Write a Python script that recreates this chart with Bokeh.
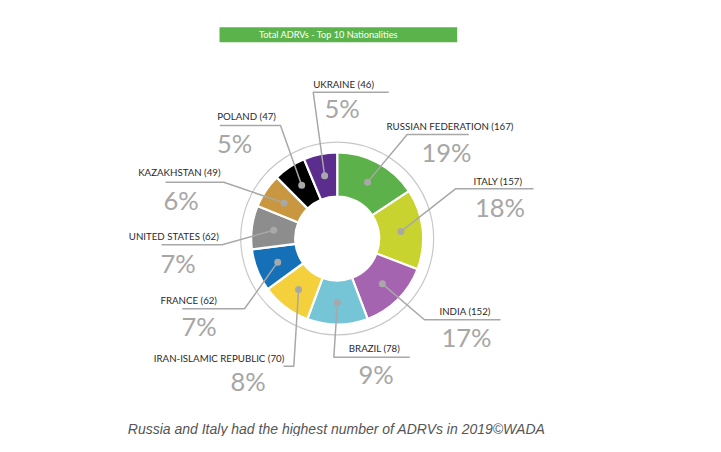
import numpy as np
from bokeh.plotting import figure
from bokeh.models import Range1d, ColumnDataSource
from bokeh.core.properties import value
from bokeh.embed import file_html
from bokeh.resources import INLINE

# ---- data ----
countries = ["RUSSIAN FEDERATION", "ITALY", "INDIA", "BRAZIL", "IRAN-ISLAMIC REPUBLIC",
             "FRANCE", "UNITED STATES", "KAZAKHSTAN", "POLAND", "UKRAINE"]
counts = [167, 157, 152, 78, 70, 62, 62, 49, 47, 46]
percents = [19, 18, 17, 9, 8, 7, 7, 6, 5, 5]
# share of the ring each slice occupies as drawn in the infographic (%)
drawn_share = [15.7, 15.1, 13.4, 11.4, 9.3, 8.0, 8.2, 6.4, 6.1, 6.3]
colors = ["#5cb14b", "#c9d32f", "#a564b0", "#75c5d6", "#f4d13c",
          "#1570b8", "#8d8d8d", "#c9973f", "#000000", "#5b2d8c"]
title = "Total ADRVs - Top 10 Nationalities"
caption = "Russia and Italy had the highest number of ADRVs in 2019\u00a9WADA"

# ---- layout (reference pixel coords) ----
W, H = 705, 436
def X(x): return x
def Y(y): return H - y

CX, CY = X(336.7), Y(238)
R_IN, R_OUT, R_RING, R_DOT = 42, 86, 96.5, 64

# per label: name (left x, center y), pct (left x, center y), elbow (x,y), line end x
name_pos = [(386, 125), (473, 180), (439, 310.7), (348.3, 347.7), (153.3, 357.3),
            (160, 299.3), (128.3, 235), (137.7, 171.7), (216.7, 115), (312.7, 83.3)]
pct_pos = [(421, 151), (474.5, 206), (441, 336.5), (358, 373.5), (230, 380.5),
           (181, 325), (160, 262), (163, 199), (216.5, 142), (324, 107.5)]
elbows = [(406.7, 134), (455, 188.3), (424, 319.3), (333.3, 356.7), (293.3, 365.7),
          (244, 308.3), (221.7, 244.3), (223.3, 181.7), (280, 125), (312.7, 91.7)]
line_end = [468.3, 533, 500, 409.3, 283, 181.7, 161, 165, 219.3, 388.3]

p = figure(width=W, height=H, output_backend="svg", toolbar_location=None,
           x_range=Range1d(0, W), y_range=Range1d(0, H), min_border=0)
p.axis.visible = False
p.grid.visible = False
p.outline_line_color = None
p.background_fill_color = "white"

# title bar
p.rect(x=[X((219 + 456.7) / 2)], y=[Y(34.2)], width=[237.7], height=[15],
       fill_color="#5ab44b", line_color=None)
p.text(x=[X(328)], y=[Y(34.2)], text=[title], text_color="white",
       text_font=value("Lato"), text_font_size="9.2px", text_align="center",
       text_baseline="middle")

# donut
share = np.array(drawn_share, dtype=float)
share = share / share.sum()
cum = np.concatenate([[0], np.cumsum(share)]) * 2 * np.pi
start = np.pi / 2 - cum[1:]
end = np.pi / 2 - cum[:-1]
mid = (start + end) / 2

p.circle(x=[CX], y=[CY], radius=R_RING, fill_color=None, line_color="#c8c8c8",
         line_width=1.2)
src = ColumnDataSource(dict(start=start, end=end, color=colors))
p.annular_wedge(x=CX, y=CY, inner_radius=R_IN, outer_radius=R_OUT,
                start_angle="start", end_angle="end", fill_color="color",
                line_color="white", line_width=2.2, source=src)

dot_x = CX + R_DOT * np.cos(mid)
dot_y = CY + R_DOT * np.sin(mid)

# leader lines
xs, ys = [], []
for i in range(len(countries)):
    ex, ey = elbows[i]
    xs.append([dot_x[i], X(ex), X(line_end[i])])
    ys.append([dot_y[i], Y(ey), Y(ey)])
p.multi_line(xs=xs, ys=ys, line_color="#a8a8a8", line_width=1.5)
p.scatter(x=dot_x, y=dot_y, size=7, fill_color="#a8a8a8", line_color=None)

# labels
p.text(x=[X(a) for a, b in name_pos], y=[Y(b) for a, b in name_pos],
       text=[f"{c} ({n})" for c, n in zip(countries, counts)],
       text_color="#2a2a2a", text_font=value("Lato"), text_font_size="9.7px",
       text_align="left", text_baseline="middle")
p.text(x=[X(a) for a, b in pct_pos], y=[Y(b) for a, b in pct_pos],
       text=[f"{v}%" for v in percents],
       text_color="#a6a6a6", text_font=value("Lato"), text_font_size="25.5px",
       text_align="left", text_baseline="middle")

# caption
p.text(x=[X(127.3)], y=[Y(428.5)], text=[caption], text_color="#555555",
       text_font=value("Liberation Sans"), text_font_style="italic",
       text_font_size="14px", text_align="left", text_baseline="middle")

open("out.html", "w").write(file_html(p, INLINE))
